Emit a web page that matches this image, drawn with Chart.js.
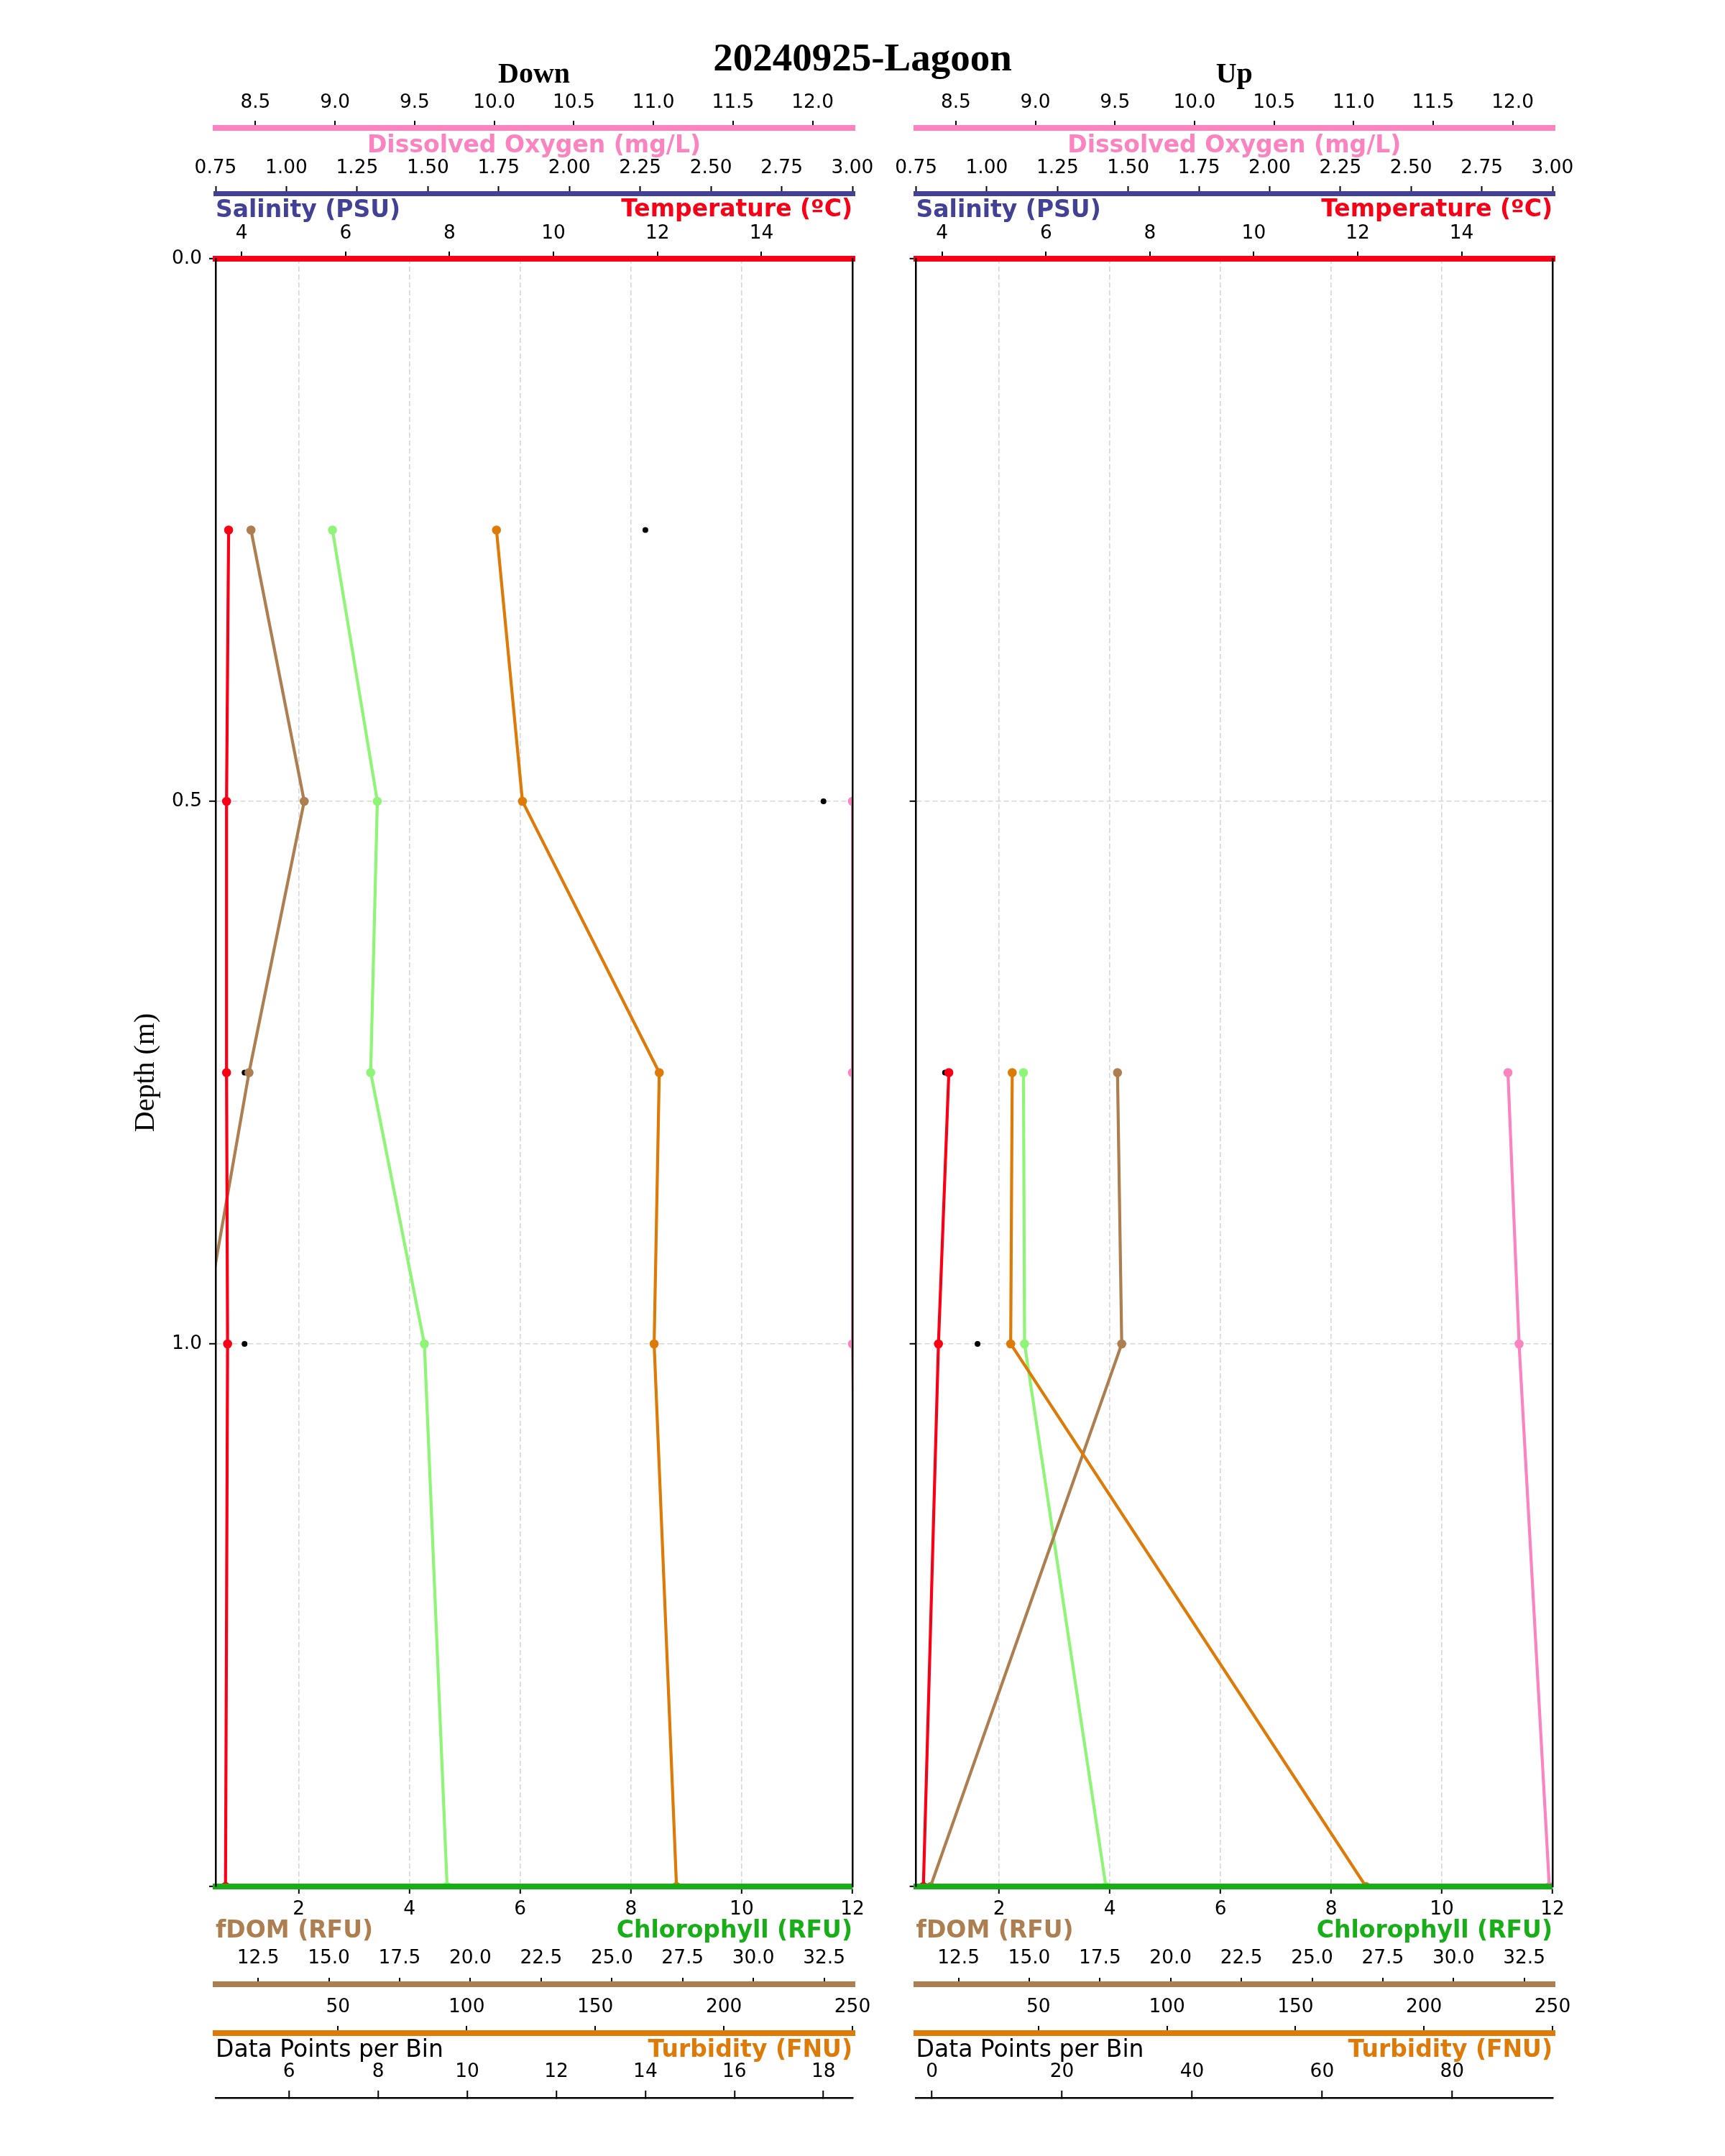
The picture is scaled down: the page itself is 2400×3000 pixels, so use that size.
<!DOCTYPE html>
<html>
<head>
<meta charset="utf-8">
<title>20240925-Lagoon</title>
<script src="https://cdn.jsdelivr.net/npm/chart.js@4.4.1/dist/chart.umd.min.js"></script>
<style>
    html, body { margin: 0; padding: 0; background: #ffffff; }
    #page { position: relative; width: 2400px; height: 3000px; }
    .panel { position: absolute; top: 0; height: 3000px; }
    #downWrap { left: 0; width: 1236px; }
    #upWrap { left: 1236px; width: 1164px; }
    #mainTitle {
        position: absolute; left: 0; top: 52px; width: 2400px; text-align: center;
        font: bold 55px/55px "Liberation Serif", "DejaVu Serif", serif; color: #000;
    }
</style>
</head>
<body>
<div id="page">
    <div class="panel" id="downWrap"><canvas id="downChart" width="1236" height="3000"></canvas></div>
    <div class="panel" id="upWrap"><canvas id="upChart" width="1164" height="3000"></canvas></div>
    <div id="mainTitle">20240925-Lagoon</div>
</div>
<script>
// Depth bins (m)
const downDepth = [0.25, 0.5, 0.75, 1.0, 1.5];
const upDepth = [0.75, 1.0, 1.5];

// Profile values per bin (Down cast / Up cast)
const downTemperature = [3.75, 3.71, 3.71, 3.73, 3.69];
const upTemperature = [4.13, 3.93, 3.64];
const downOxygen = [12.5, 12.25, 12.25, 12.25, 12.3];
const upOxygen = [11.97, 12.04, 12.23];
const downChlorophyll = [2.61, 3.42, 3.30, 4.27, 4.68];
const upChlorophyll = [2.44, 2.46, 3.93];
const downFdom = [12.25, 14.13, 12.18, 10.5, 10.4];
const upFdom = [18.12, 18.27, 11.51];
const downTurbidity = [111.6, 121.7, 174.9, 172.9, 181.6];
const upTurbidity = [39.8, 39.2, 177.4];
const downPoints = [14, 18, 5, 5, 16];
const upPoints = [2, 7, 91];

// Axis limits and tick labels
const oxygenRange = [8.25, 12.25];
const oxygenTicks = [8.5, 9.0, 9.5, 10.0, 10.5, 11.0, 11.5, 12.0];
const salinityRange = [0.75, 3.0];
const salinityTicks = [0.75, 1.0, 1.25, 1.5, 1.75, 2.0, 2.25, 2.5, 2.75, 3.0];
const temperatureRange = [3.5, 15.75];
const temperatureTicks = [4, 6, 8, 10, 12, 14];
const chlorophyllRange = [0.5, 12];
const chlorophyllTicks = [2, 4, 6, 8, 10, 12];
const fdomRange = [11.0, 33.5];
const fdomTicks = [12.5, 15.0, 17.5, 20.0, 22.5, 25.0, 27.5, 30.0, 32.5];
const turbidityRange = [2.4, 250];
const turbidityTicks = [50, 100, 150, 200, 250];
const downPointsRange = [4.35, 18.65];
const downPointsTicks = [6, 8, 10, 12, 14, 16, 18];
const upPointsRange = [-2.45, 95.45];
const upPointsTicks = [0, 20, 40, 60, 80];
const depthTicks = [0, 0.5, 1.0, 1.5];
const depthLabels = ['0.0', '0.5', '1.0', ''];

// Colors
const colors = {
    oxygen: '#fb83c0',
    salinity: '#424196',
    temperature: '#f80016',
    chlorophyllAxis: '#17ae17',
    chlorophyll: '#8ff576',
    fdom: '#ad7f50',
    turbidity: '#de7a08',
    points: '#000000',
    grid: '#d8d8d8'
};

const tickFont = { family: 'DejaVu Sans', size: 26.4 };

// One stacked x axis: a thick coloured spine with its own ticks
function makeAxis(p) {
    return {
        type: 'linear',
        axis: 'x',
        position: p.position,
        weight: p.weight,
        min: p.range[0],
        max: p.range[1],
        afterBuildTicks: axis => { axis.ticks = p.ticks.map(v => ({ value: v })); },
        afterFit: axis => { axis.height = p.height; },
        border: { display: true, color: p.color, width: p.width, z: 1, dash: p.gridLines ? [7, 4] : [] },
        grid: {
            display: true,
            drawOnChartArea: !!p.gridLines,
            color: colors.grid,
            lineWidth: p.gridLines ? 1.6 : p.width,
            drawTicks: true,
            tickLength: p.tickLength,
            tickWidth: 2,
            tickColor: '#000'
        },
        ticks: {
            display: true,
            mirror: !!p.mirror,
            padding: p.padding,
            color: '#000',
            font: tickFont,
            autoSkip: false,
            maxRotation: 0,
            minRotation: 0,
            callback: v => Number(v).toFixed(p.decimals)
        }
    };
}

function profile(depths, values) {
    return depths.map((d, i) => ({ x: values[i], y: d }));
}

function lineSet(label, depths, values, color, axisId, order) {
    return {
        label: label,
        data: profile(depths, values),
        xAxisID: axisId,
        yAxisID: 'y',
        borderColor: color,
        backgroundColor: color,
        pointBackgroundColor: color,
        pointBorderColor: color,
        borderWidth: 4.2,
        pointRadius: 6.3,
        pointHoverRadius: 6.3,
        pointBorderWidth: 0,
        tension: 0,
        fill: false,
        order: order
    };
}

// Axis names written into the gaps between the stacked spines
const axisNames = {
    id: 'axisNames',
    afterDraw(chart) {
        const { ctx, chartArea: ca, scales } = chart;
        const put = (text, x, y, align, color, weight) => {
            ctx.save();
            ctx.font = weight + ' 33px "DejaVu Sans"';
            ctx.fillStyle = color;
            ctx.textAlign = align;
            ctx.textBaseline = 'middle';
            ctx.fillText(text, x, y);
            ctx.restore();
        };
        const mid = (ca.left + ca.right) / 2;
        put('Dissolved Oxygen (mg/L)', mid, scales.xSal.top + 25, 'center', colors.oxygen, 'bold');
        put('Salinity (PSU)', ca.left, scales.xTemp.top + 24, 'left', colors.salinity, 'bold');
        put('Temperature (ºC)', ca.right, scales.xTemp.top + 23, 'right', colors.temperature, 'bold');
        put('fDOM (RFU)', ca.left, scales.xChl.top + 62, 'left', colors.fdom, 'bold');
        put('Chlorophyll (RFU)', ca.right, scales.xChl.top + 62, 'right', colors.chlorophyllAxis, 'bold');
        put('Data Points per Bin', ca.left, scales.xTurb.top + 24, 'left', '#000', 'normal');
        put('Turbidity (FNU)', ca.right, scales.xTurb.top + 24, 'right', colors.turbidity, 'bold');
    }
};

function buildPanel(canvasId, title, depths, series, pointsRange, pointsTicks, showDepth, yWidth, padRight) {
    return new Chart(document.getElementById(canvasId), {
        type: 'line',
        data: {
            datasets: [
                lineSet('Temperature', depths, series.temperature, colors.temperature, 'xTemp', 0),
                lineSet('Dissolved Oxygen', depths, series.oxygen, colors.oxygen, 'xOxy', 1),
                lineSet('Turbidity', depths, series.turbidity, colors.turbidity, 'xTurb', 2),
                lineSet('fDOM', depths, series.fdom, colors.fdom, 'xFdom', 3),
                lineSet('Chlorophyll', depths, series.chlorophyll, colors.chlorophyll, 'xChl', 4),
                {
                    label: 'Data Points per Bin',
                    data: profile(depths, series.points),
                    xAxisID: 'xPts',
                    yAxisID: 'y',
                    showLine: false,
                    pointRadius: 4,
                    pointHoverRadius: 4,
                    pointBorderWidth: 0,
                    pointBackgroundColor: colors.points,
                    pointBorderColor: colors.points,
                    order: 5
                }
            ]
        },
        options: {
            responsive: false,
            animation: false,
            events: [],
            layout: { padding: { left: 0, right: padRight, top: 0, bottom: 61 } },
            plugins: {
                legend: { display: false },
                tooltip: { enabled: false },
                title: {
                    display: true,
                    text: title,
                    fullSize: false,
                    color: '#000',
                    font: { family: 'Liberation Serif', size: 40, weight: 'bold', lineHeight: 1 },
                    padding: { top: 85, bottom: -5 }
                }
            },
            scales: {
                xTemp: makeAxis({ position: 'top', weight: 1, range: temperatureRange, ticks: temperatureTicks,
                    color: colors.temperature, width: 8, height: 91, tickLength: 10, padding: 9.2, decimals: 0 }),
                xSal: makeAxis({ position: 'top', weight: 2, range: salinityRange, ticks: salinityTicks,
                    color: colors.salinity, width: 7, height: 91, tickLength: 10, padding: 9.2, decimals: 2 }),
                xOxy: makeAxis({ position: 'top', weight: 3, range: oxygenRange, ticks: oxygenTicks,
                    color: colors.oxygen, width: 8, height: 58, tickLength: 10, padding: 9.2, decimals: 1 }),
                xChl: makeAxis({ position: 'bottom', weight: 1, range: chlorophyllRange, ticks: chlorophyllTicks,
                    color: colors.chlorophyllAxis, width: 8, height: 136, tickLength: 10, padding: 6.2, decimals: 0, gridLines: true }),
                xFdom: makeAxis({ position: 'bottom', weight: 2, range: fdomRange, ticks: fdomTicks,
                    color: colors.fdom, width: 8, height: 68, tickLength: -9, padding: 20.2, decimals: 1, mirror: true }),
                xTurb: makeAxis({ position: 'bottom', weight: 3, range: turbidityRange, ticks: turbidityTicks,
                    color: colors.turbidity, width: 8, height: 90, tickLength: -10, padding: 20.2, decimals: 0, mirror: true }),
                xPts: makeAxis({ position: 'bottom', weight: 4, range: pointsRange, ticks: pointsTicks,
                    color: '#000', width: 2.5, height: 20, tickLength: -10, padding: 20.2, decimals: 0, mirror: true }),
                y: {
                    type: 'linear',
                    axis: 'y',
                    position: 'left',
                    reverse: true,
                    min: 0,
                    max: 1.5,
                    afterBuildTicks: axis => { axis.ticks = depthTicks.map(v => ({ value: v })); },
                    afterFit: axis => { axis.width = yWidth; },
                    border: { display: true, color: '#000', width: 2.5, z: 1, dash: [7, 4] },
                    grid: {
                        display: true, drawOnChartArea: true, color: colors.grid, lineWidth: 1.6,
                        drawTicks: true, tickLength: 9, tickWidth: 2, tickColor: '#000'
                    },
                    ticks: {
                        display: showDepth, padding: 10, color: '#000', font: tickFont, autoSkip: false,
                        callback: (v, i) => depthLabels[i]
                    },
                    title: {
                        display: showDepth,
                        text: 'Depth (m)',
                        color: '#000',
                        font: { family: 'Liberation Serif', size: 40, lineHeight: 1 },
                        padding: { top: 183, bottom: 0 }
                    }
                },
                yRight: {
                    type: 'linear',
                    axis: 'y',
                    position: 'right',
                    min: 0,
                    max: 1.5,
                    afterFit: axis => { axis.width = 50; },
                    border: { display: true, color: '#000', width: 2.5, z: 1 },
                    grid: { display: false, drawTicks: false },
                    ticks: { display: false }
                }
            }
        },
        plugins: [axisNames]
    });
}

document.addEventListener('DOMContentLoaded', function() {
    buildPanel('downChart', 'Down', downDepth, {
        temperature: downTemperature,
        oxygen: downOxygen,
        chlorophyll: downChlorophyll,
        fdom: downFdom,
        turbidity: downTurbidity,
        points: downPoints
    }, downPointsRange, downPointsTicks, true, 300, 0);

    buildPanel('upChart', 'Up', upDepth, {
        temperature: upTemperature,
        oxygen: upOxygen,
        chlorophyll: upChlorophyll,
        fdom: upFdom,
        turbidity: upTurbidity,
        points: upPoints
    }, upPointsRange, upPointsTicks, false, 37, 190);
});
</script>
</body>
</html>
